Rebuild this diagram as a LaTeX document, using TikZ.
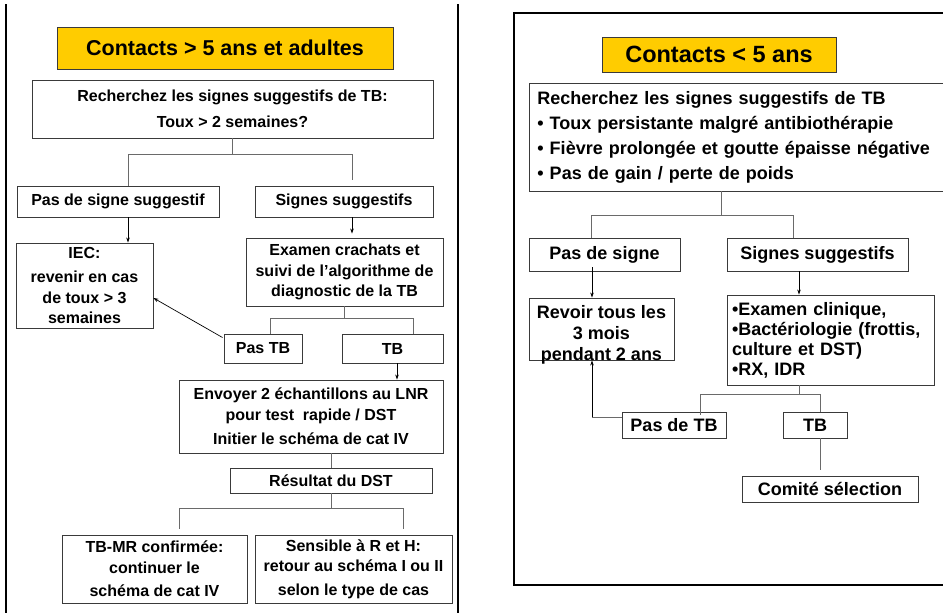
\documentclass[tikz,border=0pt]{standalone}
\usepackage{fontspec}
\setmainfont{Liberation Sans}
\usetikzlibrary{arrows.meta,calc}
\definecolor{titleyellow}{HTML}{FFCC00}
\definecolor{edgegray}{HTML}{6A6A6A}
\definecolor{boxgray}{HTML}{3A3A3A}
\newcommand\lfnt{\fontsize{16}{20.5}\selectfont\bfseries}
\newcommand\rfnt{\fontsize{18}{21}\selectfont\bfseries}
\tikzset{
  box/.style={draw=boxgray, line width=0.9pt, fill=white, inner sep=0pt, align=center},
  lbox/.style={box, font=\lfnt},
  rbox/.style={box, font=\rfnt},
  titlebox/.style={draw=boxgray, line width=1pt, fill=titleyellow, inner sep=0pt, font=\bfseries},
  conn/.style={draw=edgegray, line width=1pt},
  arr/.style={draw=black, line width=0.7pt, -{Stealth[length=5pt,width=3.5pt]}},
  frame/.style={draw=black, line width=2.2pt}
}
\begin{document}
\begin{tikzpicture}[x=1pt,y=-1pt]
\useasboundingbox (0,0) rectangle (943,613);
\clip (0,0) rectangle (943,613);

% ---------- left panel: contacts over five years and adults ----------
\draw[frame, line width=1.8pt] (6,4) -- (6,613);
\draw[frame, line width=1.8pt] (458,4) -- (458,613);

\node[titlebox, minimum width=336, minimum height=42, font=\fontsize{21.5}{24}\selectfont\bfseries]
  (tL) at (225,48) {Contacts > 5 ans et adultes};
\node[lbox, minimum width=401, minimum height=58, font=\fontsize{16}{26}\selectfont\bfseries]
  (rl) at (232.5,109) {Recherchez les signes suggestifs de TB:\\Toux > 2 semaines?};
\node[lbox, minimum width=202, minimum height=31] (ps) at (118,201.5) {Pas de signe suggestif};
\node[lbox, minimum width=178, minimum height=31] (ss) at (344,201.5) {Signes suggestifs};
\node[lbox, minimum width=137, minimum height=85] (iec) at (84.5,285.5)
  {IEC:\\[4pt]revenir en cas\\de toux > 3\\semaines};
\node[lbox, minimum width=197, minimum height=68] (ex) at (344.5,272)
  {Examen crachats et\\suivi de l’algorithme de\\diagnostic de la TB};
\node[lbox, minimum width=78, minimum height=29] (pastb) at (263,348.5) {Pas TB};
\node[lbox, minimum width=101, minimum height=29] (tb) at (392.5,348.5) {TB};
\node[lbox, minimum width=264, minimum height=73] (env) at (311,416.5)
  {Envoyer 2 échantillons au LNR\\pour test\ \ rapide / DST\\[4pt]Initier le schéma de cat IV};
\node[lbox, minimum width=202, minimum height=25] (res) at (331,480.5) {Résultat du DST};
\node[lbox, minimum width=185, minimum height=68] (mr) at (154.5,569)
  {TB-MR confirmée:\\continuer le\\[3pt]schéma de cat IV};
\node[lbox, minimum width=197, minimum height=68] (sens) at (353.5,569)
  {Sensible à R et H:\\retour au schéma I ou II\\[3pt]selon le type de cas};

% tree connectors, left panel
\coordinate (jA1) at (128,154);
\coordinate (jA2) at (352,154);
\draw[conn] (rl.south) -- (rl.south |- jA1);
\draw[conn] (ps.north -| jA1) -- (jA1) -- (jA2) -- ($(ss.north -| jA2)+(0,-6)$);
\draw[arr] (ps.south -| jA1) -- (iec.north -| jA1);
\draw[arr, shorten >=4pt] (ss.south -| jA2) -- (ex.north -| jA2);

\coordinate (jB1) at (270,318);
\coordinate (jB2) at (413,318);
\draw[conn] (ex.south) -- (ex.south |- jB1);
\draw[conn] (pastb.north -| jB1) -- (jB1) -- (jB2) -- (tb.north -| jB2);
\draw[arr] ($(pastb.north west)+(-1,4)$) -- ($(iec.east)+(0,12.5)$);
\draw[arr] ($(tb.south)+(4.5,0)$) -- ($(tb.south |- env.north)+(4.5,0)$);
\draw[conn] (res.north |- env.south) -- (res.north);

\coordinate (jC1) at (179,508);
\coordinate (jC2) at (403,508);
\draw[conn] (res.south) -- (res.south |- jC1);
\draw[conn] ($(mr.north -| jC1)+(0,-6)$) -- (jC1) -- (jC2) -- ($(sens.north -| jC2)+(0,-6)$);

% ---------- right panel: contacts under five years ----------
\draw[frame] (960,13) -- (514,13) -- (514,585) -- (960,585);

\node[titlebox, minimum width=234, minimum height=35, font=\fontsize{23.5}{26}\selectfont\bfseries]
  (tR) at (719,54.5) {Contacts < 5 ans};
\node[rbox, anchor=west, minimum height=108, text width=414, inner xsep=8pt, align=left,
  font=\fontsize{18}{25}\selectfont\bfseries] (rr) at (529,137)
  {Recherchez les signes suggestifs de TB\\• Toux persistante malgré antibiothérapie\\• Fièvre prolongée et goutte épaisse négative\\• Pas de gain / perte de poids};
\node[rbox, minimum width=151, minimum height=33] (pds) at (604.5,254.5) {Pas de signe};
\node[rbox, minimum width=181, minimum height=33] (ssR) at (817.5,254.5) {Signes suggestifs};
% follow-up box; its text sits low, the last line on the lower edge
\node[rbox, minimum width=145, minimum height=62] (rev) at (601.5,329) {};
\node[font=\rfnt, align=center, inner sep=0pt] (revtxt) at (601.5,335)
  {Revoir tous les\\3 mois\\pendant 2 ans};
\node[rbox, minimum height=90, text width=197, inner xsep=5pt, align=left,
  font=\fontsize{18}{20}\selectfont\bfseries] (exR) at (830.5,340)
  {•Examen clinique,\\•Bactériologie (frottis,\\culture et DST)\\•RX, IDR};
\node[rbox, minimum width=104, minimum height=26] (pastbR) at (674,425) {Pas de TB};
\node[rbox, minimum width=64, minimum height=26] (tbR) at (815,425) {TB};
\node[rbox, minimum width=176, minimum height=26] (com) at (830,489) {Comité sélection};

% tree connectors, right panel
\coordinate (jD1) at (591,215);
\coordinate (jD2) at (793,215);
\draw[conn] (rr.south -| 721,0) -- (721,215);
\draw[conn] (pds.north -| jD1) -- (jD1) -- (jD2) -- (ssR.north -| jD2);
\draw[arr] ($(pds.south -| 592,0)+(0,-4)$) -- (rev.north -| 592,0);
\draw[arr] (ssR.south -| 799,0) -- (exR.north -| 799,0);

\coordinate (jE1) at (700,394);
\coordinate (jE2) at (820,394);
\draw[conn] (exR.south -| 799,0) -- (799,394);
\draw[conn] ($(pastbR.north -| jE1)+(0,3)$) -- (jE1) -- (jE2) -- (tbR.north -| jE2);
\draw[conn] ($(pastbR.west)+(0,-8)$) -- (592,417);
\draw[arr] (592,417) -- (rev.south -| 592,0);
\draw[conn, shorten >=6pt] (tbR.south -| 820,0) -- (com.north -| 820,0);
\end{tikzpicture}
\end{document}
